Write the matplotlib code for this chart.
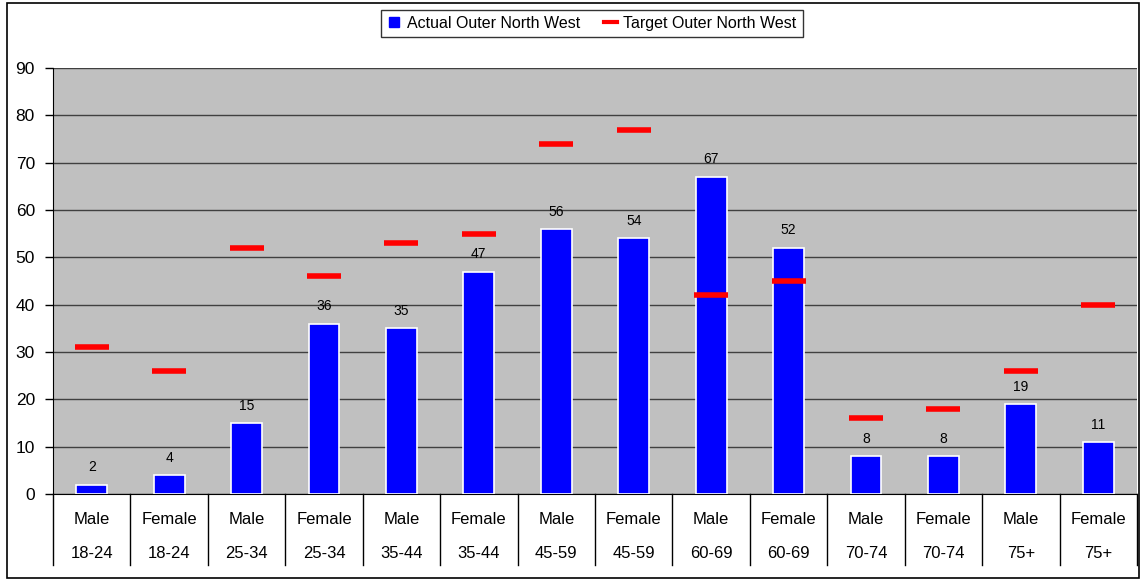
import matplotlib
matplotlib.use("Agg")
import matplotlib.pyplot as plt
from matplotlib.lines import Line2D
from matplotlib.patches import Rectangle
import numpy as np

genders = ["Male", "Female"] * 7
ages = ["18-24", "18-24", "25-34", "25-34", "35-44", "35-44", "45-59", "45-59",
        "60-69", "60-69", "70-74", "70-74", "75+", "75+"]
actual = [2, 4, 15, 36, 35, 47, 56, 54, 67, 52, 8, 8, 19, 11]
target = [31, 26, 52, 46, 53, 55, 74, 77, 42, 45, 16, 18, 26, 40]

plt.rcParams['font.family'] = ['Liberation Sans', 'DejaVu Sans']

W, H = 1142, 580
fig = plt.figure(figsize=(W / 100, H / 100), dpi=100)
fig.patch.set_facecolor("white")
fig.patches.append(Rectangle((7 / W, 2 / H), (1139 - 7) / W, (577 - 2) / H,
                             transform=fig.transFigure, fill=False,
                             edgecolor="black", linewidth=1.2))

left, right, top, bottom = 53, 1137, 68, 494
ax = fig.add_axes([left / W, 1 - bottom / H, (right - left) / W, (bottom - top) / H])
ax.set_facecolor("#C0C0C0")

x = np.arange(len(actual))
ax.bar(x, actual, width=0.4, color="#0000FF", edgecolor="white", linewidth=1.2, zorder=3)
for xi, v in zip(x, actual):
    ax.text(xi, v + 2.2, str(v), ha="center", va="bottom", fontsize=10, zorder=5)
ax.errorbar(x, target, xerr=0.22, fmt="none", ecolor="#FF0000", elinewidth=4,
            capsize=0, zorder=4)

ax.set_xlim(-0.5, len(actual) - 0.5)
ax.set_ylim(0, 90)
ax.set_yticks(range(0, 91, 10))
ax.tick_params(axis="y", labelsize=12.5, length=6, width=1, direction="out", pad=7)
ax.set_xticks([])
ax.yaxis.grid(True, color="#404040", linewidth=1.0, zorder=1)
ax.set_axisbelow(True)
for s in ["top", "right"]:
    ax.spines[s].set_visible(False)
ax.spines["left"].set_color("black")
ax.spines["bottom"].set_color("black")

# category labels and separators
trans = ax.get_xaxis_transform()
for xi, g, a in zip(x, genders, ages):
    ax.text(xi, -25 / (bottom - top), g, transform=trans, ha="center", va="center", fontsize=12)
    ax.text(xi, -60 / (bottom - top), a, transform=trans, ha="center", va="center", fontsize=12)
sep_bottom = -71 / (bottom - top)
for b in np.arange(-0.5, len(actual), 1.0):
    ax.add_line(Line2D([b, b], [0, sep_bottom], transform=trans, color="black",
                       linewidth=1, clip_on=False))

handles = [Line2D([], [], marker="s", color="#0000FF", linestyle="none", markersize=6.5),
           Line2D([], [], color="#FF0000", linewidth=3)]
leg = fig.legend(handles, ["Actual Outer North West", "Target Outer North West"],
                 loc="center", bbox_to_anchor=(592 / W, 1 - 23.5 / H), ncol=2,
                 frameon=True, fontsize=11.5, fancybox=False, handlelength=0.8,
                 handletextpad=0.4, columnspacing=1.5, borderpad=0.4)
leg.get_frame().set_edgecolor("black")
leg.get_frame().set_linewidth(1)

fig.savefig("out.png", dpi=100)
